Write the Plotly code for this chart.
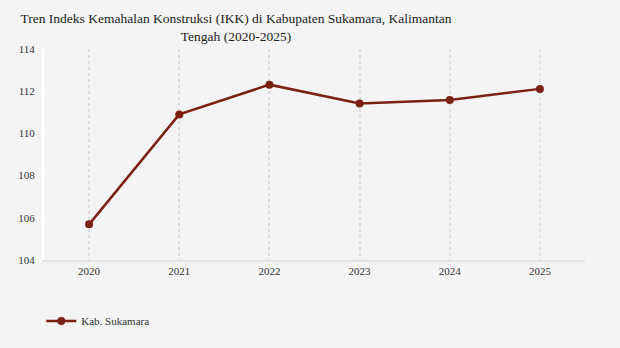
import plotly.graph_objects as go

years = ["2020", "2021", "2022", "2023", "2024", "2025"]
ikk = [105.69, 110.90, 112.31, 111.42, 111.58, 112.11]
series_name = "Kab. Sukamara"
y_ticks = [104, 106, 108, 110, 112, 114]

color = "#7B2113"
font_family = "'Liberation Serif', 'Times New Roman', serif"

fig = go.Figure()
fig.add_trace(go.Scatter(
    x=years, y=ikk, mode="lines+markers", name=series_name,
    line=dict(color=color, width=2.5),
    marker=dict(color=color, size=8),
))

fig.update_layout(
    width=620, height=348,
    paper_bgcolor="#f4f4f4", plot_bgcolor="#f4f4f4",
    margin=dict(l=44, r=35, t=49, b=86),
    font=dict(family=font_family, color="#333333", size=11),
    title=dict(
        text="Tren Indeks Kemahalan Konstruksi (IKK) di Kabupaten Sukamara, Kalimantan<br>Tengah (2020-2025)",
        x=236/620, xanchor="center", xref="container",
        y=0.933, yanchor="top", yref="container",
        font=dict(family=font_family, size=13.5, color="#222222"),
    ),
    showlegend=True,
    legend=dict(
        orientation="h", x=-0.005, xanchor="left", y=-0.22, yanchor="top",
        font=dict(family=font_family, size=11, color="#333333"), bgcolor="rgba(0,0,0,0)",
    ),
    xaxis=dict(
        type="category", range=[-0.5, 5.5],
        showgrid=True, gridcolor="#dddddd", griddash="dot", gridwidth=1.5,
        showline=True, linecolor="#e3e3e3", linewidth=2,
        ticks="", tickfont=dict(family=font_family, size=11, color="#333333"),
        zeroline=False,
    ),
    yaxis=dict(
        range=[104, 114], tickvals=y_ticks,
        showgrid=False, zeroline=False,
        showline=True, linecolor="#ffffff", linewidth=2,
        ticks="outside", tickcolor="#ffffff", ticklen=5, tickwidth=1,
        tickfont=dict(family=font_family, size=11, color="#333333"),
    ),
)

fig.write_html("out.html")
